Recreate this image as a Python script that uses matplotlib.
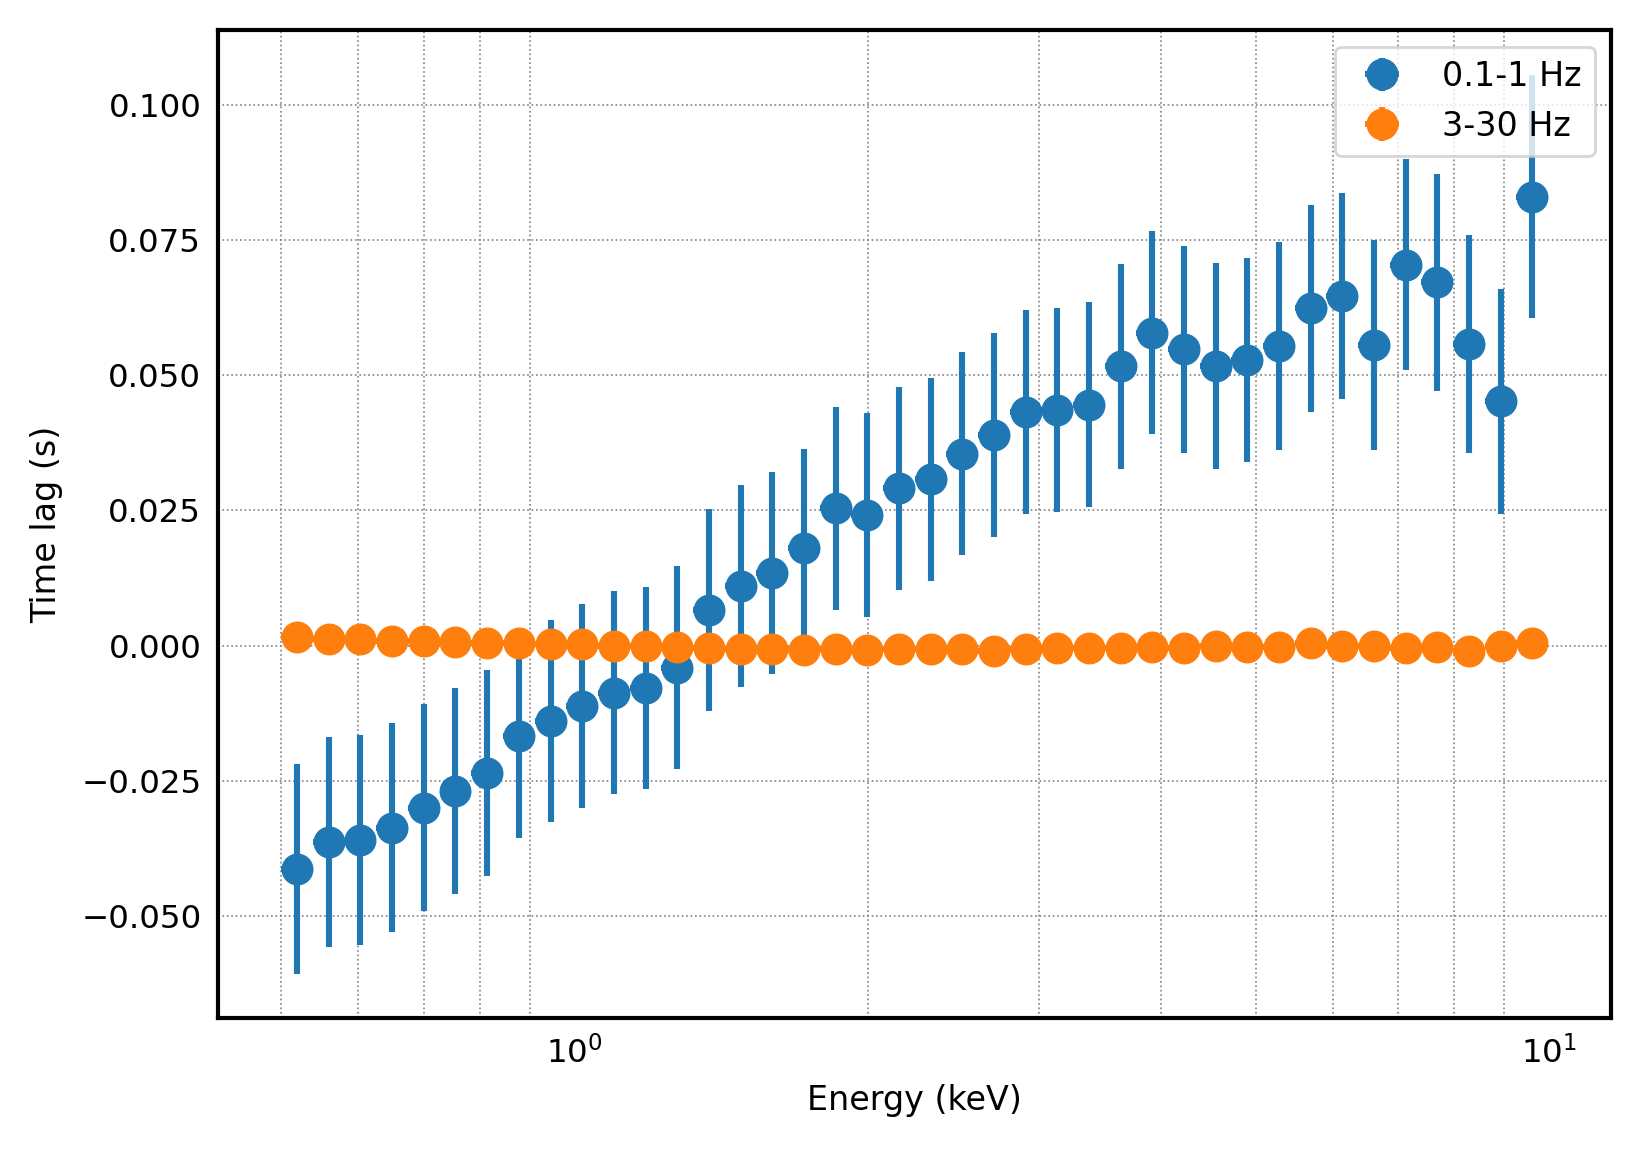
import matplotlib
matplotlib.use("Agg")
import matplotlib.pyplot as plt
import numpy as np

# energy bin centres (keV)
energy = [0.5192, 0.5595, 0.6030, 0.6498, 0.7003, 0.7547, 0.8133, 0.8768,
          0.9450, 1.0185, 1.0977, 1.1830, 1.2749, 1.3740, 1.4807, 1.5958,
          1.7198, 1.8535, 1.9975, 2.1527, 2.3200, 2.5003, 2.6946, 2.9040,
          3.1297, 3.3729, 3.6350, 3.9175, 4.2220, 4.5500, 4.9036, 5.2847,
          5.6954, 6.1380, 6.6150, 7.1290, 7.6830, 8.2801, 8.9236, 9.6170]

# 0.1-1 Hz lags and errors (s)
lag_low = [-0.0413, -0.0364, -0.0360, -0.0337, -0.0300, -0.0269, -0.0236, -0.0167,
           -0.0140, -0.0112, -0.0087, -0.0079, -0.0041, 0.0066, 0.0110, 0.0134,
           0.0180, 0.0254, 0.0242, 0.0291, 0.0308, 0.0355, 0.0390, 0.0432,
           0.0436, 0.0446, 0.0517, 0.0579, 0.0548, 0.0517, 0.0529, 0.0554,
           0.0624, 0.0647, 0.0556, 0.0705, 0.0672, 0.0558, 0.0452, 0.0831]
err_low = [0.0194, 0.0194, 0.0195, 0.0194, 0.0192, 0.0191, 0.0191, 0.0189,
           0.0187, 0.0188, 0.0188, 0.0187, 0.0188, 0.0187, 0.0187, 0.0187,
           0.0184, 0.0188, 0.0189, 0.0188, 0.0188, 0.0188, 0.0189, 0.0189,
           0.0188, 0.0189, 0.0190, 0.0188, 0.0191, 0.0191, 0.0189, 0.0192,
           0.0192, 0.0191, 0.0195, 0.0196, 0.0201, 0.0201, 0.0208, 0.0225]

# 3-30 Hz lags and errors (s)
lag_high = [0.0016, 0.0012, 0.0012, 0.0008, 0.0008, 0.0006, 0.0004, 0.0004,
            0.0002, 0.0002, 0.0000, 0.0000, -0.0002, -0.0004, -0.0006, -0.0006,
            -0.0008, -0.0006, -0.0008, -0.0006, -0.0006, -0.0006, -0.0010, -0.0006,
            -0.0004, -0.0004, -0.0004, -0.0002, -0.0004, 0.0000, -0.0002, -0.0002,
            0.0004, 0.0000, 0.0000, -0.0004, -0.0002, -0.0010, 0.0000, 0.0004]
err_high = [0.0005] * 40

# bin half widths from neighbouring centres
e = np.array(energy)
edges = np.sqrt(e[1:] * e[:-1])
edges = np.concatenate([[e[0] ** 2 / edges[0]], edges, [e[-1] ** 2 / edges[-1]]])
xerr = [e - edges[:-1], edges[1:] - e]

plt.rcParams['font.size'] = 12

fig = plt.figure(figsize=(8.215, 5.745), dpi=200)
ax = fig.add_axes([0.1327, 0.1136, 0.8481, 0.8603])

ax.errorbar(energy, lag_low, xerr=xerr, yerr=err_low, fmt='o', ms=10.5,
            elinewidth=2.2, color='C0', label='0.1-1 Hz')
ax.errorbar(energy, lag_high, xerr=xerr, yerr=err_high, fmt='o', ms=10.5,
            elinewidth=2.2, color='C1', label='3-30 Hz')

ax.set_xscale('log')
ax.set_xlabel('Energy (keV)', labelpad=5)
ax.set_ylabel('Time lag (s)', labelpad=6.3)

ax.xaxis.grid(True, which='minor', ls=':', color='gray', lw=0.6)
ax.yaxis.grid(True, which='major', ls=':', color='gray', lw=0.6)
ax.tick_params(which='both', length=0, pad=6, labelsize=11.7)
for s in ax.spines.values():
    s.set_linewidth(1.5)

ax.legend(loc='upper right', fontsize=12)

fig.savefig('out.png', dpi=200)
